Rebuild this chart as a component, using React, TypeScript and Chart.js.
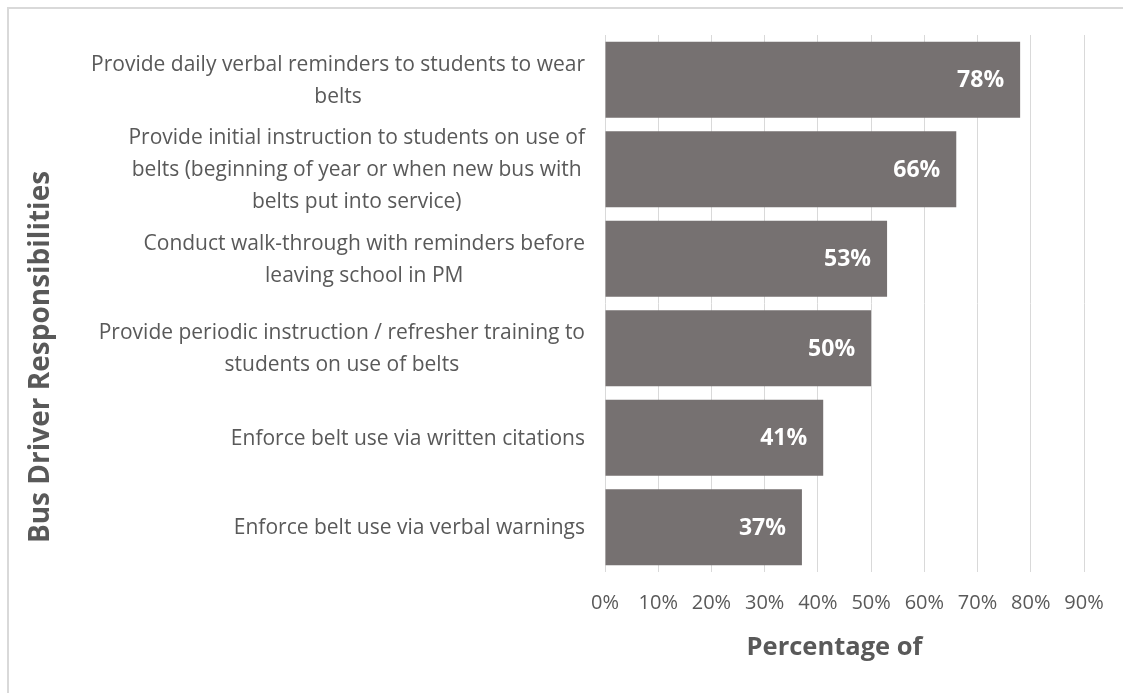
import React, { useEffect, useRef } from "react";
import { Chart, registerables } from "chart.js";

Chart.register(...registerables);

const categories: string[][] = [
  ["Provide daily verbal reminders to students to wear", "belts"],
  ["Provide initial instruction to students on use of", "belts (beginning of year or when new bus with", "belts put into service)"],
  ["Conduct walk-through with reminders before", "leaving school in PM"],
  ["Provide periodic instruction / refresher training to", "students on use of belts"],
  ["Enforce belt use via written citations"],
  ["Enforce belt use via verbal warnings"],
];
const values: number[] = [78, 66, 53, 50, 41, 37];
const xTicks: number[] = [0, 10, 20, 30, 40, 50, 60, 70, 80, 90];
const xTitle = "Percentage of";
const yTitle = "Bus Driver Responsibilities";

const FONT = "'Open Sans', sans-serif";
const TEXT = "#595959";

const overlay = {
  id: "overlay",
  afterDatasetsDraw(chart: any) {
    const ctx = chart.ctx;
    const ya = chart.scales.y;
    const ca = chart.chartArea;
    ctx.save();
    // category labels: block right-aligned, lines centered in block
    ctx.font = `21px ${FONT}`;
    ctx.fillStyle = TEXT;
    ctx.textAlign = "center";
    ctx.textBaseline = "middle";
    const lh = 32;
    categories.forEach((lines, i) => {
      const w = Math.max(...lines.map((l) => ctx.measureText(l).width));
      const right = ca.left - 20;
      const cx = right - w / 2;
      const cy = ya.getPixelForValue(i) + 1;
      lines.forEach((l, k) => {
        ctx.fillText(l, cx, cy + (k - (lines.length - 1) / 2) * lh);
      });
    });
    // data labels
    const meta = chart.getDatasetMeta(0);
    ctx.font = `bold 23px ${FONT}`;
    ctx.fillStyle = "#ffffff";
    ctx.textAlign = "right";
    meta.data.forEach((bar: any, i: number) => {
      ctx.fillText(values[i] + "%", bar.x - 16, bar.y + 1);
    });
    // axis titles
    ctx.fillStyle = TEXT;
    ctx.font = `bold 25.5px ${FONT}`;
    ctx.textAlign = "center";
    ctx.fillText(xTitle, (ca.left + ca.right) / 2 - 10, 648);
    ctx.save();
    ctx.translate(41, 357);
    ctx.rotate(-Math.PI / 2);
    ctx.font = `bold 28px ${FONT}`;
    ctx.fillText(yTitle, 0, 0);
    ctx.restore();
    ctx.restore();
  },
};

export default function App() {
  const ref = useRef<HTMLCanvasElement>(null);
  useEffect(() => {
    const chart = new Chart(ref.current!, {
      type: "bar",
      data: {
        labels: categories.map((c) => c.join(" ")),
        datasets: [
          {
            data: values,
            backgroundColor: "#767171",
            categoryPercentage: 1,
            barPercentage: 0.85,
          },
        ],
      },
      options: {
        indexAxis: "y",
        animation: false,
        responsive: false,
        layout: { padding: { left: 605, right: 39, top: 35, bottom: 59 } },
        plugins: { legend: { display: false }, tooltip: { enabled: false } },
        scales: {
          y: { display: false },
          x: {
            min: 0,
            max: 90,
            afterBuildTicks: (s: any) => {
              s.ticks = xTicks.map((v) => ({ value: v }));
            },
            grid: { color: "#d9d9d9", drawTicks: false, lineWidth: 1 },
            border: { display: false },
            ticks: {
              padding: 19,
              color: TEXT,
              font: { family: FONT, size: 20 },
              callback: (v: any) => v + "%",
              maxRotation: 0,
              autoSkip: false,
            },
          },
        },
      },
      plugins: [overlay],
    });
    return () => chart.destroy();
  }, []);
  return (
    <div style={{ position: "fixed", left: 0, top: 0, width: 1123, height: 693, background: "#fff", overflow: "hidden" }}>
      <div style={{ position: "absolute", left: 7, top: 7, width: 1200, height: 800, borderTop: "2px solid #d9d9d9", borderLeft: "2px solid #d9d9d9" }} />
      <canvas ref={ref} width={1123} height={693} style={{ position: "absolute", left: 0, top: 0 }} />
    </div>
  );
}
